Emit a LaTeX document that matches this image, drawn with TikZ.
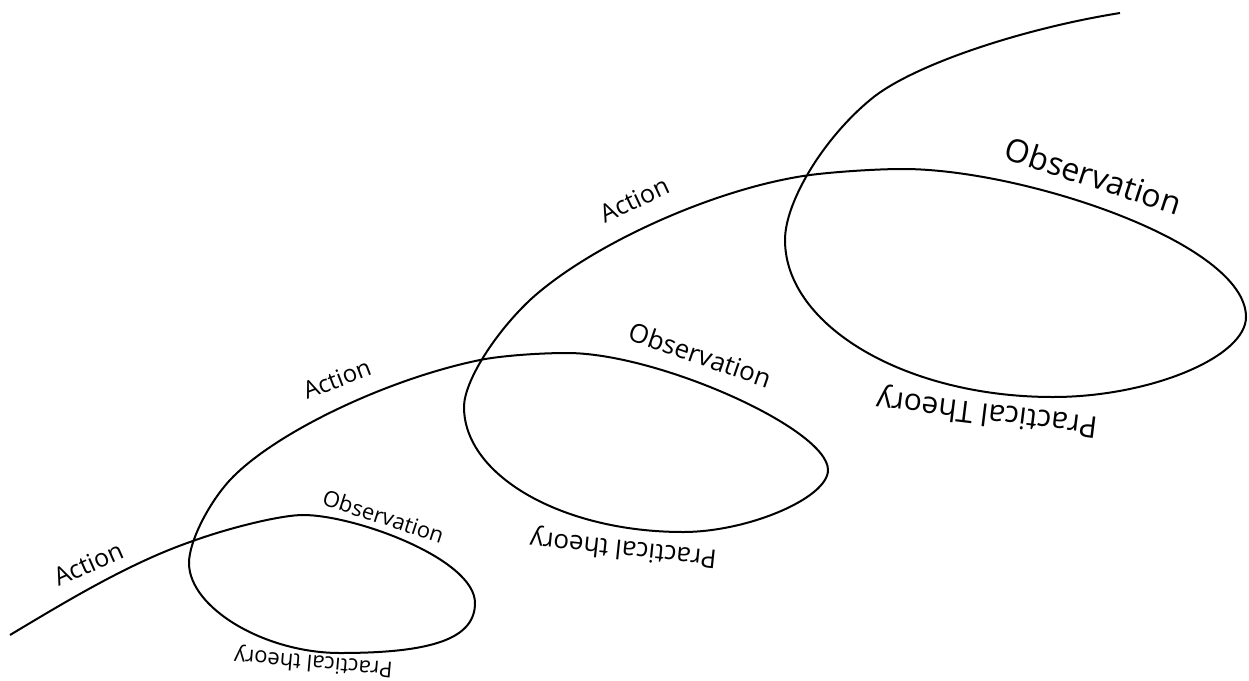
\documentclass[tikz,border=0pt]{standalone}
\usepackage{fontspec}
\setmainfont{Open Sans}
\usetikzlibrary{positioning}

\tikzset{
  lbl/.style={anchor=base, inner sep=0pt, font=\fontsize{#1}{#1}\selectfont},
  loopline/.style={line width=2pt, line join=round}
}

\begin{document}
\begin{tikzpicture}[x=1pt, y=-1pt]
    \useasboundingbox (0,0) rectangle (1249,680);

    % Spiral, small loop
    \draw [loopline] (10,635)
      .. controls (70,599) and (130,563) .. (190,542)
      .. controls (231,527) and (282,515) .. (303,515)
      .. controls (355,515) and (475,559) .. (475,603)
      .. controls (475,638) and (434,653) .. (340,653)
      .. controls (265,653) and (189,608) .. (189,563)
    % middle loop
      .. controls (189,542) and (208,504) .. (230,480)
      .. controls (274,433) and (387,379) .. (480,360)
      .. controls (499,356) and (538,353) .. (567,353)
      .. controls (658,353) and (828,429) .. (828,470)
      .. controls (828,498) and (748,532) .. (683,532)
      .. controls (563,532) and (464,476) .. (464,407)
    % large loop
      .. controls (464,382) and (494,334) .. (530,300)
      .. controls (590,245) and (715,188) .. (810,175)
      .. controls (833,172) and (875,169) .. (903,169)
      .. controls (1023,169) and (1246,243) .. (1246,317)
      .. controls (1246,357) and (1150,397) .. (1053,397)
      .. controls (906,397) and (785,326) .. (785,240)
      .. controls (785,202) and (823,139) .. (870,100)
      .. controls (910,66) and (1020,29) .. (1120,13);

    % Labels
    \node [lbl=25, rotate=24] (act1) at (92,572) {Action};
    \node [lbl=22, rotate=-18] (obs1) at (381,524) {Observation};
    \node [lbl=22, rotate=175] (pt1) at (314,656) {Practical theory};

    \node [lbl=24, rotate=21] (act2) at (340,387) {Action};
    \node [lbl=26, rotate=-19] (obs2) at (697,364) {Observation};
    \node [lbl=26, rotate=174] (pt2) at (624,541) {Practical theory};

    \node [lbl=25, rotate=25] (act3) at (638,208) {Action};
    \node [lbl=32, rotate=-18] (obs3) at (1090,187) {Observation};
    \node [lbl=30, rotate=173] (pt3) at (988,404) {Practical Theory};
\end{tikzpicture}
\end{document}
